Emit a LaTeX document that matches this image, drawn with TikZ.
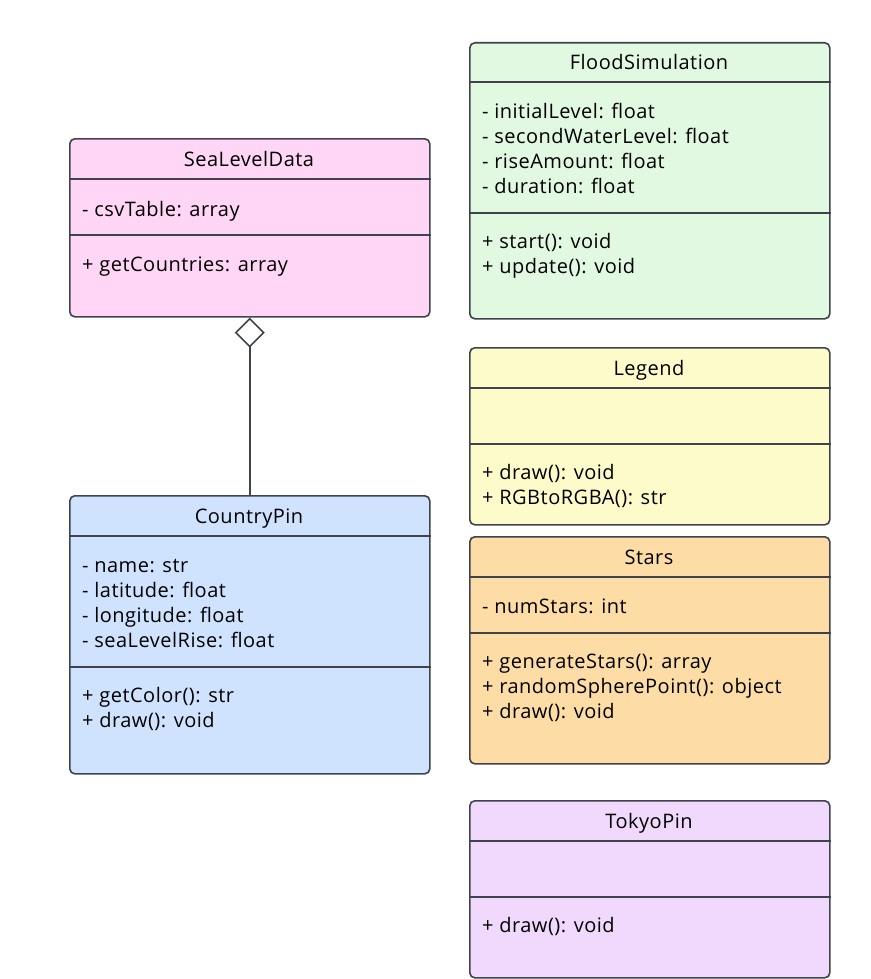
\documentclass[tikz,border=0pt]{standalone}
\usepackage{fontspec}
\setmainfont{Open Sans}[LetterSpace = 2.5]
\usetikzlibrary{arrows.meta}

\definecolor{edgegray}{HTML}{3F434C}
\definecolor{seapink}{HTML}{FFD6F5}
\definecolor{floodgreen}{HTML}{E1F8E1}
\definecolor{legendyellow}{HTML}{FDFBCA}
\definecolor{starsorange}{HTML}{FEDCA5}
\definecolor{pinblue}{HTML}{CFE3FF}
\definecolor{tokyopurple}{HTML}{F1D9FD}

\begin{document}
\begin{tikzpicture}[x = 1pt, y = -1pt,
	classbox/.style = {draw = edgegray, line width = 1.6pt, rounded corners = 5pt, anchor = north west, minimum width = 360pt, inner sep = 0pt},
	divider/.style = {draw = edgegray, line width = 1.6pt},
	classtitle/.style = {font = \fontsize{20}{25}\selectfont, anchor = base, inner sep = 0pt},
	member/.style = {font = \fontsize{20}{25}\selectfont, anchor = base west, inner sep = 0pt}]
	\useasboundingbox (0,0) rectangle (870,979);
	% SeaLevelData
	\node[classbox, fill = seapink, minimum height = 178pt] (sea) at (69,138) {};
	\draw[divider] (sea.west |- 0,179) -- (sea.east |- 0,179)
		(sea.west |- 0,235) -- (sea.east |- 0,235);
	\node[classtitle] (seaT) at (249,166) {SeaLevelData};
	\node[member] (seaA) at (82,216) {- csvTable: array};
	\node[member] (seaM) at (82,271) {+ getCountries: array};
	% CountryPin
	\node[classbox, fill = pinblue, minimum height = 278pt] (pin) at (69,495) {};
	\draw[divider] (pin.west |- 0,536) -- (pin.east |- 0,536)
		(pin.west |- 0,667) -- (pin.east |- 0,667);
	\node[classtitle] (pinT) at (249,523) {CountryPin};
	\node[member] (pinA1) at (82,572) {- name: str};
	\node[member] (pinA2) at (82,597) {- latitude: float};
	\node[member] (pinA3) at (82,622) {- longitude: float};
	\node[member] (pinA4) at (82,647) {- seaLevelRise: float};
	\node[member] (pinM1) at (82,702) {+ getColor(): str};
	\node[member] (pinM2) at (82,727) {+ draw(): void};
	% FloodSimulation
	\node[classbox, fill = floodgreen, minimum height = 276pt] (flood) at (469,42) {};
	\draw[divider] (flood.west |- 0,82) -- (flood.east |- 0,82)
		(flood.west |- 0,213) -- (flood.east |- 0,213);
	\node[classtitle] (floodT) at (649,70) {FloodSimulation};
	\node[member] (floodA1) at (482,118) {- initialLevel: float};
	\node[member] (floodA2) at (482,143) {- secondWaterLevel: float};
	\node[member] (floodA3) at (482,168) {- riseAmount: float};
	\node[member] (floodA4) at (482,193) {- duration: float};
	\node[member] (floodM1) at (482,248) {+ start(): void};
	\node[member] (floodM2) at (482,273) {+ update(): void};
	% Legend
	\node[classbox, fill = legendyellow, minimum height = 177pt] (legend) at (469,347) {};
	\draw[divider] (legend.west |- 0,388) -- (legend.east |- 0,388)
		(legend.west |- 0,444) -- (legend.east |- 0,444);
	\node[classtitle] (legendT) at (649,375) {Legend};
	\node[member] (legendM1) at (482,479) {+ draw(): void};
	\node[member] (legendM2) at (482,504) {+ RGBtoRGBA(): str};
	% Stars
	\node[classbox, fill = starsorange, minimum height = 227pt] (stars) at (469,536) {};
	\draw[divider] (stars.west |- 0,577) -- (stars.east |- 0,577)
		(stars.west |- 0,633) -- (stars.east |- 0,633);
	\node[classtitle] (starsT) at (649,564) {Stars};
	\node[member] (starsA1) at (482,613) {- numStars: int};
	\node[member] (starsM1) at (482,668) {+ generateStars(): array};
	\node[member] (starsM2) at (482,693) {+ randomSpherePoint(): object};
	\node[member] (starsM3) at (482,718) {+ draw(): void};
	% TokyoPin
	\node[classbox, fill = tokyopurple, minimum height = 177pt] (tokyo) at (469,800) {};
	\draw[divider] (tokyo.west |- 0,841) -- (tokyo.east |- 0,841)
		(tokyo.west |- 0,897) -- (tokyo.east |- 0,897);
	\node[classtitle] (tokyoT) at (649,828) {TokyoPin};
	\node[member] (tokyoM1) at (482,932) {+ draw(): void};
	% aggregation
	\draw[edgegray, line width = 1.6pt, -{Diamond[open, length = 30pt, width = 30pt]}] (pin) -- (sea);
\end{tikzpicture}
\end{document}
